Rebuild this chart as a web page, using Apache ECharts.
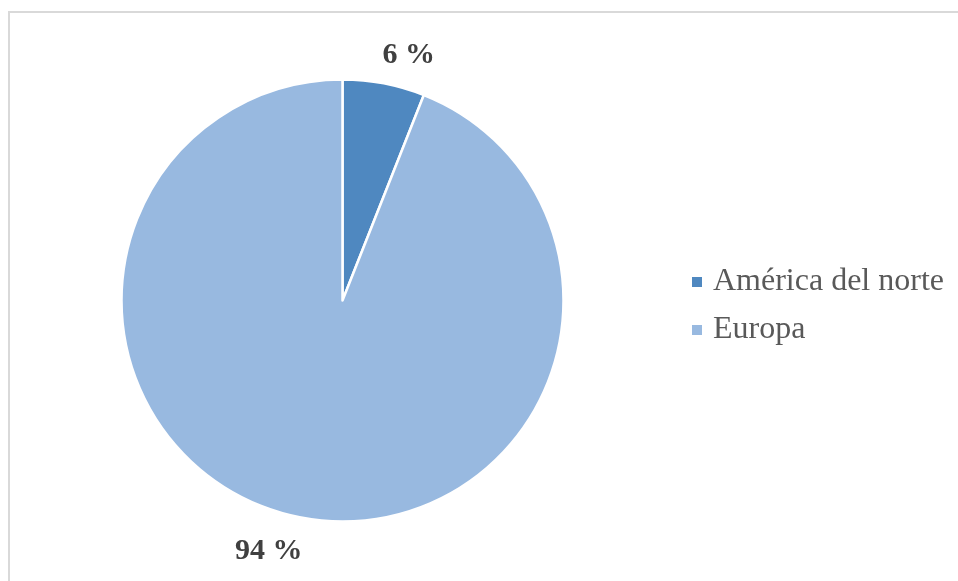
<!DOCTYPE html>
<html>
<head>
<meta charset="utf-8">
<style>
	html,body{
		margin:0;
		padding:0;
		background:#fff;
	}
	#main{
		width:958px;
		height:581px;
	}
</style>
<script src="https://cdn.jsdelivr.net/npm/echarts@6/dist/echarts.min.js"></script>
</head>
<body>
<div id="main"></div>
<script>
var categories = ['América del norte', 'Europa'];
var values = [6, 94];
var colors = ['#4f88c0', '#98b9e0'];

var myChart = echarts.init(document.getElementById('main'));
var option = {
	animation: false,
	color: colors,
	graphic: [{
		type: 'rect',
		shape: {x: 9, y: 12, width: 960, height: 580},
		style: {fill: 'none', stroke: '#d9d9d9', lineWidth: 2}
	}],
	legend: {
		orient: 'vertical',
		left: 685,
		top: 261,
		icon: 'rect',
		itemWidth: 12,
		itemHeight: 12,
		itemGap: 16,
		textStyle: {
			fontFamily: 'Liberation Serif',
			fontSize: 32,
			color: '#595959',
			padding: [0, 0, 0, 5]
		},
		data: categories
	},
	series: [{
		type: 'pie',
		center: [342.5, 300.5],
		radius: 221,
		startAngle: 90,
		clockwise: true,
		itemStyle: {
			borderColor: '#fff',
			borderWidth: 2.5
		},
		label: {
			show: true,
			position: 'outside',
			formatter: function (p) { return p.value + ' %'; },
			fontFamily: 'Liberation Serif',
			fontWeight: 'bold',
			fontSize: 30,
			color: '#404040'
		},
		labelLine: {
			show: false,
			length: 30,
			length2: 0
		},
		labelLayout: function (p) {
			// nudge the labels a little inward, like the original
			if (p.dataIndex === 0) return {dx: -12, dy: 1};
			return {dx: 12, dy: 4};
		},
		data: categories.map(function (c, i) {
			return {name: c, value: values[i]};
		})
	}]
};
myChart.setOption(option);
</script>
</body>
</html>
